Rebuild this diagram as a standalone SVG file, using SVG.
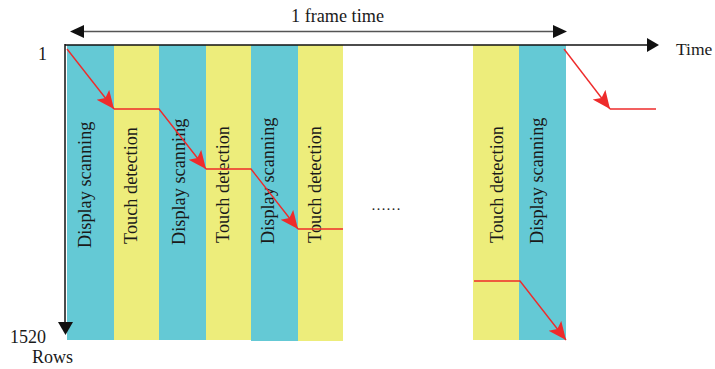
<svg xmlns="http://www.w3.org/2000/svg" width="715" height="369" viewBox="0 0 715 369">
<style>
.c{fill:#64C9D5}
.y{fill:#EDED7B}
.t{font-family:"Liberation Serif","Times New Roman",serif;font-size:18.3px;fill:#1a1a1a}
.lb{font-family:"Liberation Serif","Times New Roman",serif;font-size:18px;fill:#1a1a1a}
.red{fill:none;stroke:#EE2B2B;stroke-width:1.4}
</style>
<defs>
<marker id="ra" markerUnits="userSpaceOnUse" markerWidth="20" markerHeight="18" refX="18" refY="8" orient="auto">
<polygon points="0,0 18,8 0,16 4,8" fill="#EE2B2B"/>
</marker>
</defs>
<g id="columns">
<rect id="col1" class="c" x="67" y="45" width="47" height="295"/>
<rect id="col2" class="y" x="114" y="45" width="45" height="295"/>
<rect id="col3" class="c" x="159" y="45" width="47" height="295"/>
<rect id="col4" class="y" x="206" y="45" width="45" height="295"/>
<rect id="col5" class="c" x="251" y="45" width="47" height="296"/>
<rect id="col6" class="y" x="298" y="45" width="45" height="296"/>
<rect id="col7" class="y" x="473" y="45" width="46" height="295"/>
<rect id="col8" class="c" x="519" y="45" width="47" height="295"/>
</g>
<g id="labels">
<text class="t" transform="translate(91,248) rotate(-90)">Display scanning</text>
<text class="t" transform="translate(137,244) rotate(-90)">Touch detection</text>
<text class="t" transform="translate(185,245) rotate(-90)">Display scanning</text>
<text class="t" transform="translate(229,243) rotate(-90)">Touch detection</text>
<text class="t" transform="translate(274,244) rotate(-90)">Display scanning</text>
<text class="t" transform="translate(321,243) rotate(-90)">Touch detection</text>
<text class="t" transform="translate(503,243) rotate(-90)">Touch detection</text>
<text class="t" transform="translate(543,244) rotate(-90)">Display scanning</text>
<text class="lb" x="371" y="210" style="font-size:15px">……</text>
</g>
<g id="axes">
<line x1="65" y1="45" x2="648" y2="45" stroke="#111" stroke-width="1.5"/>
<polygon points="647,38 659,45 647,52" fill="#111"/>
<line x1="65" y1="44" x2="65" y2="323" stroke="#111" stroke-width="1.5"/>
<polygon points="58,322 65.5,335 73,322" fill="#111"/>
<line x1="83" y1="31.5" x2="554" y2="31.5" stroke="#555" stroke-width="1.5"/>
<polygon points="70,31.5 84,25 84,38" fill="#111"/>
<polygon points="567,31.5 553,25 553,38" fill="#111"/>
<text class="lb" x="337.5" y="22" text-anchor="middle" style="font-size:18.2px">1 frame time</text>
<text class="lb" x="38" y="60">1</text>
<text class="lb" x="10" y="343">1520</text>
<text class="lb" x="32" y="363">Rows</text>
<text class="lb" x="676" y="55" style="font-size:17.5px">Time</text>
</g>
<g id="connectors">
<path class="red" d="M67,49 L114,109" marker-end="url(#ra)"/>
<path class="red" d="M114,109 L159,109 L206,169" marker-end="url(#ra)"/>
<path class="red" d="M206,169 L251,169 L298,229" marker-end="url(#ra)"/>
<path class="red" d="M298,229 L343,229"/>
<path class="red" d="M564,49 L610,109" marker-end="url(#ra)"/>
<path class="red" d="M610,109 L656,109"/>
<path class="red" d="M474,281 L520,281 L566,340" marker-end="url(#ra)"/>
</g>
</svg>
